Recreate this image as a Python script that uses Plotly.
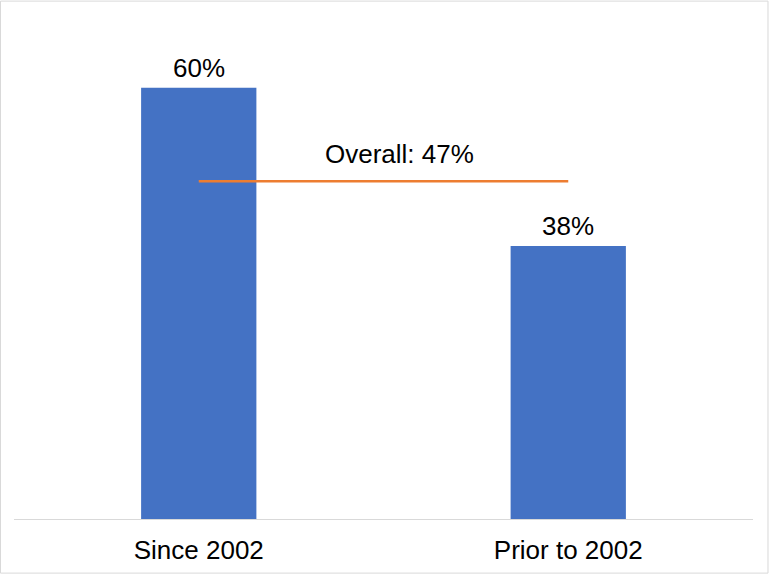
import plotly.graph_objects as go

# data
categories = ["Since 2002", "Prior to 2002"]
shares = [60, 38]
overall = 47

W, H = 769, 577
# plot area in pixels
left, right, top, bottom = 14, 753.5, 15.5, 522
pw, ph = right - left, bottom - top

fig = go.Figure()

fig.add_trace(go.Bar(
    x=categories, y=shares,
    marker=dict(color="#4472C4", line=dict(width=0)),
))

# overall line from one bar centre to the other
fig.add_trace(go.Scatter(
    x=categories, y=[overall] * len(categories),
    mode="lines", line=dict(color="#ED7D31", width=2.5),
))

# value labels above the bars
for cat, v in zip(categories, shares):
    fig.add_annotation(
        x=cat, y=v, yanchor="bottom", yshift=3,
        text=f"{v}%", showarrow=False,
        font=dict(size=26, color="black"),
    )

fig.add_annotation(
    x=(400 - left) / pw, xref="paper",
    y=overall, yref="y", yanchor="bottom", yshift=10,
    text=f"Overall: {overall}%", showarrow=False,
    font=dict(size=26, color="black"),
)

# light grey frame round the whole picture
fig.add_shape(
    type="rect", xref="paper", yref="paper",
    x0=(0.5 - left) / pw, x1=(768.5 - left) / pw,
    y0=(bottom - 576.5) / ph, y1=(bottom - 0.5) / ph,
    line=dict(color="#d9d9d9", width=1), fillcolor="rgba(0,0,0,0)",
)

fig.update_layout(
    width=W, height=H,
    margin=dict(l=left, r=W - right, t=top, b=H - bottom),
    paper_bgcolor="white", plot_bgcolor="white",
    showlegend=False, bargap=0.688,
    font=dict(family="Liberation Sans, Arial, sans-serif", size=26, color="black"),
    xaxis=dict(showline=True, linecolor="#d9d9d9", linewidth=1, showgrid=False,
               ticks="", ticklabelstandoff=8, tickfont=dict(size=26, color="black")),
    yaxis=dict(range=[0, 70], visible=False, showgrid=False, zeroline=False),
)

# drop the browser's default page margin so the figure sits at the corner
fig.write_html("out.html", config={"displayModeBar": False},
               post_script="document.body.style.margin='0';")
